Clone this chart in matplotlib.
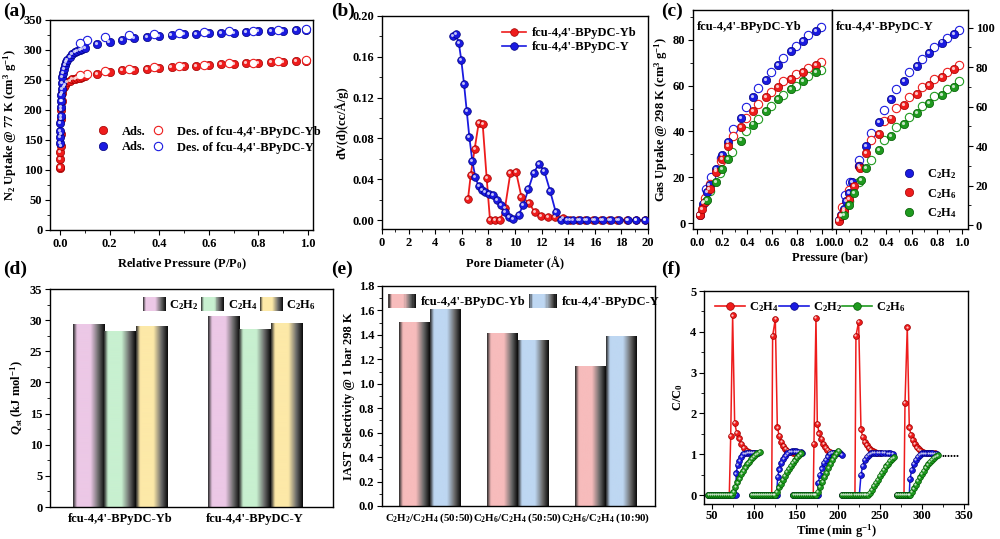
import matplotlib
matplotlib.use("Agg")
import matplotlib.pyplot as plt
import numpy as np
from matplotlib.transforms import offset_copy
from matplotlib.colors import LinearSegmentedColormap
from matplotlib.legend_handler import HandlerBase
from matplotlib.patches import Rectangle, Patch
from matplotlib.lines import Line2D
from matplotlib.ticker import AutoMinorLocator

plt.rcParams['font.family'] = ['Liberation Serif', 'DejaVu Serif']
plt.rcParams['font.weight'] = 'bold'
plt.rcParams['axes.labelweight'] = 'bold'
plt.rcParams['font.size'] = 9
plt.rcParams['mathtext.fontset'] = 'custom'
plt.rcParams['mathtext.rm'] = 'Liberation Serif:bold'
plt.rcParams['mathtext.it'] = 'Liberation Serif:italic:bold'
plt.rcParams['mathtext.bf'] = 'Liberation Serif:bold'
plt.rcParams['axes.linewidth'] = 1.0
plt.rcParams['xtick.direction'] = 'out'
plt.rcParams['ytick.direction'] = 'out'
plt.rcParams['xtick.major.size'] = 3.5
plt.rcParams['ytick.major.size'] = 3.5
plt.rcParams['xtick.minor.size'] = 2
plt.rcParams['ytick.minor.size'] = 2
plt.rcParams['xtick.major.pad'] = 2
plt.rcParams['ytick.major.pad'] = 2

RED, RED_E = '#ee1c1c', '#a00000'
BLUE, BLUE_E = '#1a1ae0', '#000080'
GREEN, GREEN_E = '#1f9a1f', '#005a00'

# ---------------- (a) N2 isotherms ----------------
yb_ads_p = [0.0005, 0.001, 0.0015, 0.002, 0.003, 0.004, 0.005, 0.006, 0.008, 0.010, 0.015, 0.02, 0.03,
            0.04, 0.05, 0.06, 0.07, 0.08, 0.09, 0.10, 0.15, 0.20, 0.25, 0.30, 0.35, 0.40, 0.45, 0.50,
            0.55, 0.60, 0.65, 0.70, 0.75, 0.80, 0.85, 0.90, 0.95, 0.99]
yb_ads_v = [103, 105, 118, 130, 140, 160, 185, 200, 215, 228, 238, 242, 246, 249, 251, 252, 253, 254,
            255, 256, 260, 263, 266, 267, 269, 270, 272, 273, 274, 275, 276, 277, 278, 279, 280, 280, 281, 282]
yb_des_p = [0.99, 0.88, 0.78, 0.68, 0.58, 0.48, 0.38, 0.28, 0.18, 0.11, 0.08]
yb_des_v = [283, 281, 279, 278, 275, 273, 271, 268, 265, 260, 258]
y_ads_p = [0.0005, 0.001, 0.0015, 0.002, 0.003, 0.004, 0.005, 0.006, 0.007, 0.008, 0.010, 0.012, 0.015,
           0.02, 0.025, 0.03, 0.04, 0.05, 0.06, 0.07, 0.08, 0.09, 0.10, 0.15, 0.20, 0.25, 0.30, 0.35,
           0.40, 0.45, 0.50, 0.55, 0.60, 0.65, 0.70, 0.75, 0.80, 0.85, 0.90, 0.95, 0.99]
y_ads_v = [145, 155, 165, 178, 190, 205, 215, 225, 235, 245, 255, 262, 268, 275, 280, 284, 289, 293,
           296, 298, 300, 302, 304, 310, 314, 317, 320, 322, 323, 325, 326, 327, 328, 329, 329, 330,
           331, 332, 332, 333, 334]
y_des_p = [0.99, 0.88, 0.78, 0.68, 0.58, 0.48, 0.38, 0.28, 0.18, 0.11, 0.08]
y_des_v = [335, 333, 332, 331, 330, 329, 327, 325, 321, 316, 312]

# ---------------- (b) pore size distribution ----------------
psd_yb_d = [6.47, 6.67, 6.97, 7.27, 7.57, 7.87, 8.12, 8.47, 8.87, 9.25, 9.65, 10.08, 10.48, 11.03, 11.48,
            11.98, 12.5, 13.0, 13.58, 14.1, 14.7, 15.3, 15.9, 16.5, 17.1, 17.7, 18.4, 19.1, 19.8]
psd_yb_v = [0.021, 0.044, 0.070, 0.095, 0.094, 0.041, 0.0, 0.0, 0.0, 0.012, 0.046, 0.047, 0.023, 0.017,
            0.008, 0.004, 0.003, 0.003, 0.002, 0.0, 0.0, 0.0, 0.0, 0.0, 0.0, 0.0, 0.0, 0.0, 0.0]
psd_y_d = [5.36, 5.56, 5.77, 5.96, 6.17, 6.37, 6.57, 6.79, 7.02, 7.27, 7.52, 7.77, 8.02, 8.37, 8.67, 8.97,
           9.27, 9.57, 9.87, 10.28, 10.63, 11.0, 11.4, 11.8, 12.2, 12.65, 13.06, 13.46, 13.9, 14.35,
           14.85, 15.4, 16.0, 16.6, 17.2, 17.8, 18.5, 19.1, 19.8]
psd_y_v = [0.180, 0.182, 0.174, 0.157, 0.133, 0.107, 0.081, 0.058, 0.042, 0.033, 0.029, 0.027, 0.026,
           0.025, 0.020, 0.015, 0.008, 0.003, 0.001, 0.005, 0.015, 0.030, 0.046, 0.055, 0.048, 0.028,
           0.008, 0.0, 0.0, 0.0, 0.0, 0.0, 0.0, 0.0, 0.0, 0.0, 0.0, 0.0, 0.0]

# ---------------- (c) gas isotherms 298 K ----------------
c2h2_yb_ads_p = [0.02, 0.05, 0.08, 0.10, 0.15, 0.20, 0.25, 0.35, 0.45, 0.55, 0.65, 0.75, 0.85, 0.95]
c2h2_yb_ads = [3.5, 8.5, 13.5, 16.5, 23.5, 29.5, 35.5, 46, 55, 62.5, 69, 75, 79.5, 84]
c2h2_yb_des_p = [0.99, 0.89, 0.79, 0.69, 0.59, 0.49, 0.39, 0.29, 0.19, 0.11, 0.07]
c2h2_yb_des = [85.5, 82, 77.5, 72, 66, 59, 50.5, 41, 28.5, 20, 15]
c2h6_yb_ads_p = [0.02, 0.04, 0.06, 0.10, 0.15, 0.20, 0.25, 0.35, 0.45, 0.55, 0.65, 0.75, 0.85, 0.95]
c2h6_yb_ads = [3.5, 6, 9, 15, 22.5, 28, 33.5, 42, 49, 55, 59.5, 63, 66, 69]
c2h6_yb_des_p = [0.99, 0.89, 0.79, 0.69, 0.59, 0.49, 0.39, 0.29, 0.19, 0.10, 0.06]
c2h6_yb_des = [70.5, 67.5, 65, 62, 57, 52, 46, 38, 27, 17, 11]
c2h4_yb_ads_p = [0.08, 0.15, 0.20, 0.25, 0.35, 0.45, 0.55, 0.65, 0.75, 0.85, 0.95]
c2h4_yb_ads = [10, 18, 23.5, 28, 36, 43, 49, 54, 58.5, 62, 66]
c2h4_yb_des_p = [0.99, 0.89, 0.79, 0.69, 0.59, 0.49, 0.39, 0.28, 0.18, 0.10]
c2h4_yb_des = [67, 64, 60, 56, 51, 45.5, 40, 31, 22, 14]

c2h2_y_ads_p = [0.02, 0.04, 0.06, 0.08, 0.10, 0.13, 0.18, 0.24, 0.34, 0.44, 0.54, 0.64, 0.74, 0.84, 0.94]
c2h2_y_ads = [2.5, 5, 8, 12, 16, 22, 30, 40, 52, 64, 73, 80.5, 87, 92.5, 97]
c2h2_y_des_p = [0.98, 0.88, 0.78, 0.68, 0.58, 0.48, 0.38, 0.28, 0.18, 0.11, 0.07]
c2h2_y_des = [99, 95, 90, 84, 77.5, 69, 58.5, 46.5, 33, 22, 15]
c2h6_y_ads_p = [0.02, 0.04, 0.06, 0.10, 0.14, 0.19, 0.24, 0.34, 0.44, 0.54, 0.64, 0.74, 0.84, 0.94]
c2h6_y_ads = [2, 4.5, 7, 13, 20, 29, 36.5, 46, 54, 61, 66.5, 71, 75, 79]
c2h6_y_des_p = [0.98, 0.88, 0.78, 0.68, 0.58, 0.48, 0.38, 0.28, 0.18, 0.10, 0.05]
c2h6_y_des = [81, 77.5, 74, 70, 65, 59.5, 52.5, 43, 30, 18, 9]
c2h4_y_ads_p = [0.06, 0.10, 0.14, 0.20, 0.24, 0.34, 0.44, 0.54, 0.64, 0.74, 0.84, 0.94]
c2h4_y_ads = [5, 10, 16, 23, 29, 38, 45, 51, 57, 62, 66, 70]
c2h4_y_des_p = [0.98, 0.88, 0.78, 0.68, 0.58, 0.48, 0.38, 0.28, 0.18, 0.10]
c2h4_y_des = [73, 69, 65.5, 60.5, 55, 49.5, 43, 33, 22, 12]

# ---------------- (d) Qst ----------------
mofs = ["fcu-4,4'-BPyDC-Yb", "fcu-4,4'-BPyDC-Y"]
qst_gases = ['C$_2$H$_2$', 'C$_2$H$_4$', 'C$_2$H$_6$']
qst_vals = {'C$_2$H$_2$': [29.3, 30.6], 'C$_2$H$_4$': [28.2, 28.5], 'C$_2$H$_6$': [28.9, 29.4]}

# ---------------- (e) IAST ----------------
iast_cats = ['C$_2$H$_2$/C$_2$H$_4$ (50:50)', 'C$_2$H$_6$/C$_2$H$_4$ (50:50)', 'C$_2$H$_6$/C$_2$H$_4$ (10:90)']
iast_yb = [1.50, 1.41, 1.14]
iast_y = [1.61, 1.35, 1.39]

# ---------------- (f) breakthrough cycles ----------------
bt_c2h4 = [
    ([45.6, 48, 50.4, 52.8, 55.2, 57.6, 60, 62.4, 64.8, 67.2, 69.6, 70.6, 72.3, 74.6, 77, 79.4, 82.5, 84.9,
      88.1, 91.3, 94.4, 97.5, 100.5],
     [0, 0, 0, 0, 0, 0, 0, 0, 0, 0, 0, 0, 1.45, 4.40, 1.77, 1.53, 1.39, 1.25, 1.16, 1.09, 1.05, 1.04, 1.03]),
    ([97.2, 99.6, 102, 104.4, 106.8, 109.2, 111.6, 114, 116.4, 118.8, 121.1, 122.2, 125.4, 127.8, 130.1,
      132.5, 134.9, 137.3, 139.7, 142.9, 146, 149],
     [0, 0, 0, 0, 0, 0, 0, 0, 0, 0, 0, 3.90, 4.31, 1.66, 1.45, 1.31, 1.20, 1.13, 1.08, 1.05, 1.04, 1.03]),
    ([146.8, 149.2, 151.6, 154, 156.4, 158.8, 161.2, 163.6, 166, 168.4, 170.6, 171.4, 173.8, 175.4, 177.7,
      180.1, 182.5, 184.9, 187.3, 190.5, 193.5, 196.5],
     [0, 0, 0, 0, 0, 0, 0, 0, 0, 0, 0, 1.25, 4.35, 1.74, 1.51, 1.37, 1.26, 1.17, 1.10, 1.05, 1.03, 1.02]),
    ([205, 207.4, 209.8, 212.2, 214.6, 217, 219.4, 220.2, 221.4, 224.6, 227.4, 229.4, 231.8, 234.2, 236.5,
      238.9, 241.3, 243.7, 246.5, 249.5],
     [0, 0, 0, 0, 0, 0, 0, 0, 3.90, 4.25, 1.61, 1.43, 1.31, 1.22, 1.15, 1.10, 1.07, 1.05, 1.04, 1.03]),
    ([269.8, 272.2, 274.6, 277, 278.6, 279.8, 282.5, 284.9, 286.9, 288.9, 291.3, 293.7, 296.1, 298.5, 301.6,
      305.6, 309, 312, 315],
     [0, 0, 0, 0, 0, 2.26, 4.11, 1.66, 1.47, 1.35, 1.25, 1.17, 1.12, 1.08, 1.05, 1.04, 1.03, 1.03, 1.02]),
]
bt_c2h2 = [
    ([45.6, 48, 50.4, 52.8, 55.2, 57.6, 60, 62.4, 64.8, 67.2, 69.6, 72, 74.4, 76.8, 78.6, 78.8, 80.6, 82.5,
      84.9, 87.3, 90.1, 92.5, 95, 97.5, 100, 102.5, 105.1],
     [0, 0, 0, 0, 0, 0, 0, 0, 0, 0, 0, 0, 0, 0, 0, 0.53, 0.74, 0.84, 0.94, 1.00, 1.02, 1.03, 1.04, 1.04,
      1.04, 1.04, 1.04]),
    ([97.2, 99.6, 102, 104.4, 106.8, 109.2, 111.6, 114, 116.4, 118.8, 121.1, 123.5, 125.9, 127, 128.2,
      130.1, 132.5, 134.9, 137.3, 139.7, 142.9, 145.5, 148, 150.5, 153, 155.5, 157],
     [0, 0, 0, 0, 0, 0, 0, 0, 0, 0, 0, 0, 0, 0, 0.45, 0.63, 0.78, 0.88, 0.96, 1.02, 1.06, 1.07, 1.07, 1.07,
      1.06, 1.05, 1.04]),
    ([146.8, 149.2, 151.6, 154, 156.4, 158.8, 161.2, 163.6, 166, 168.4, 170.6, 173, 175.4, 176.4, 176.6,
      178.6, 180.9, 183.3, 185.7, 188.1, 190.5, 192.9, 195.3, 197.7, 200.1, 202.5, 204.6],
     [0, 0, 0, 0, 0, 0, 0, 0, 0, 0, 0, 0, 0, 0, 0.30, 0.50, 0.65, 0.78, 0.87, 0.95, 1.00, 1.03, 1.04, 1.04,
      1.03, 1.02, 0.98]),
    ([205, 207.4, 209.8, 212.2, 214.6, 217, 219.4, 221.8, 224.2, 225.4, 227.4, 229.4, 231.8, 234.2, 236.5,
      238.9, 241.3, 244, 247, 250, 253, 256, 259, 262, 265.8],
     [0, 0, 0, 0, 0, 0, 0, 0, 0, 0, 0.49, 0.72, 0.86, 0.94, 0.99, 1.02, 1.03, 1.03, 1.03, 1.03, 1.03, 1.03,
      1.02, 1.02, 1.00]),
    ([269.8, 272.2, 274.6, 277, 279.4, 281.8, 284.2, 284.9, 285.7, 288, 290, 292.8, 295.2, 297.6, 300,
      302.5, 305, 307.5, 310, 312.5, 315, 318],
     [0, 0, 0, 0, 0, 0, 0, 0, 0.40, 0.62, 0.76, 0.87, 0.94, 0.99, 1.02, 1.02, 1.02, 1.02, 1.02, 1.02, 1.01,
      1.01]),
]
bt_c2h6 = [
    ([45.6, 48, 50.4, 52.8, 55.2, 57.6, 60, 62.4, 64.8, 67.2, 69.6, 72, 73.4, 75.4, 77.8, 80.2, 82.5, 84.9,
      87.3, 89.7, 92.1, 94.4, 96.8, 99.2, 101.6, 104, 107.1],
     [0, 0, 0, 0, 0, 0, 0, 0, 0, 0, 0, 0, 0, 0.08, 0.20, 0.31, 0.41, 0.52, 0.60, 0.68, 0.76, 0.82, 0.88,
      0.94, 0.98, 1.02, 1.06]),
    ([97.2, 99.6, 102, 104.4, 106.8, 109.2, 111.6, 114, 116.4, 118.8, 121.1, 123.5, 125, 127, 129.3, 131.7,
      134.1, 136.5, 138.9, 141.3, 143.7, 146, 148.4, 150.8, 153.2, 156],
     [0, 0, 0, 0, 0, 0, 0, 0, 0, 0, 0, 0, 0, 0.08, 0.19, 0.28, 0.38, 0.47, 0.56, 0.64, 0.72, 0.79, 0.85,
      0.92, 0.97, 1.02]),
    ([146.8, 149.2, 151.6, 154, 156.4, 158.8, 161.2, 163.6, 166, 168.4, 170.6, 172.4, 174, 176.5, 178.9,
      181.3, 183.7, 186.1, 188.5, 190.9, 193.3, 195.7, 198.1, 200.5],
     [0, 0, 0, 0, 0, 0, 0, 0, 0, 0, 0, 0, 0, 0.08, 0.20, 0.32, 0.44, 0.55, 0.66, 0.76, 0.86, 0.95, 1.02,
      1.08]),
    ([205, 207.4, 209.8, 212.2, 214.6, 217, 219.4, 221.8, 224.2, 226.6, 229, 231.4, 233.6, 236, 238.1,
      240.5, 242.9, 245.2, 247.6, 250, 252.4, 254.8, 257.1, 259.5, 261.9, 264.3, 266.7],
     [0, 0, 0, 0, 0, 0, 0, 0, 0, 0, 0, 0, 0, 0, 0.06, 0.13, 0.22, 0.30, 0.38, 0.46, 0.54, 0.62, 0.70, 0.76,
      0.83, 0.88, 0.92]),
    ([269.8, 272.2, 274.6, 277, 279.4, 281.8, 284.2, 285.7, 288, 290.4, 292.8, 295.2, 297.6, 300, 302.4,
      304.8, 307.2, 309.6, 312, 314.4, 316.8, 319],
     [0, 0, 0, 0, 0, 0, 0, 0, 0.08, 0.16, 0.25, 0.34, 0.43, 0.52, 0.60, 0.68, 0.75, 0.81, 0.87, 0.91, 0.95,
      0.97]),
]

fig = plt.figure(figsize=(10, 5.39), dpi=100)
H = 539.0


def add_ax(l, t, r, b):
    return fig.add_axes([l / 1000, (H - b) / H, (r - l) / 1000, (b - t) / H])


def balls(ax, x, y, fc, ec, ms, zorder=3):
    ax.plot(x, y, 'o', ms=ms, mfc=fc, mec=ec, mew=0.5, ls='none', zorder=zorder)
    tr = offset_copy(ax.transData, fig=fig, x=-ms * 0.13, y=ms * 0.13, units='points')
    ax.plot(x, y, 'o', ms=ms * 0.38, mfc='white', mec='none', alpha=0.75, ls='none',
            transform=tr, zorder=zorder + 0.1)


def rings(ax, x, y, ec, ms, zorder=3):
    ax.plot(x, y, 'o', ms=ms, mfc='white', mec=ec, mew=0.8, ls='none', zorder=zorder)


def ball_handle(fc, ec, ms, line=False):
    return Line2D([], [], color=fc if line else 'none', lw=1.2, marker='o', ms=ms, mfc=fc, mec=ec, mew=0.5)


def minor(ax, x=True, y=True):
    if x:
        ax.xaxis.set_minor_locator(AutoMinorLocator(2))
    if y:
        ax.yaxis.set_minor_locator(AutoMinorLocator(2))


# ======== (a) ========
ax = add_ax(50, 20, 313, 230)
balls(ax, yb_ads_p, yb_ads_v, RED, RED_E, 6)
rings(ax, yb_des_p, yb_des_v, RED, 6)
balls(ax, y_ads_p, y_ads_v, BLUE, BLUE_E, 6)
rings(ax, y_des_p, y_des_v, BLUE, 6)
ax.set_xlim(-0.04, 1.02)
ax.set_ylim(0, 350)
ax.set_xticks([0, 0.2, 0.4, 0.6, 0.8, 1.0])
ax.set_yticks(range(0, 351, 50))
minor(ax)
ax.set_xlabel('Relative Pressure (P/P$_0$)', labelpad=5)
ax.set_ylabel('N$_2$ Uptake @ 77 K (cm$^3$ g$^{-1}$)', labelpad=3)
hs = [ball_handle(RED, RED_E, 6), ball_handle(BLUE, BLUE_E, 6),
      Line2D([], [], color='none', marker='o', ms=6, mfc='white', mec=RED, mew=0.8),
      Line2D([], [], color='none', marker='o', ms=6, mfc='white', mec=BLUE, mew=0.8)]
ax.legend(hs, ['Ads.', 'Ads.', "Des. of fcu-4,4'-BPyDC-Yb", "Des. of fcu-4,4'-BPyDC-Y"], ncol=2,
          loc='upper left', bbox_to_anchor=(0.13, 0.55), frameon=False, handlelength=1.2,
          handletextpad=0.9, columnspacing=0.4, labelspacing=0.3)

# ======== (b) ========
ax = add_ax(382, 16, 648, 229)
ax.plot(psd_yb_d, psd_yb_v, '-', color=RED, lw=1.3, zorder=2)
balls(ax, psd_yb_d, psd_yb_v, RED, RED_E, 5.5)
ax.plot(psd_y_d, psd_y_v, '-', color=BLUE, lw=1.3, zorder=2)
balls(ax, psd_y_d, psd_y_v, BLUE, BLUE_E, 5.5)
ax.set_xlim(0, 20)
ax.set_ylim(-0.0088, 0.20)
ax.set_xticks(range(0, 21, 2))
ax.set_yticks([0, 0.04, 0.08, 0.12, 0.16, 0.20])
ax.set_yticklabels(['0.00', '0.04', '0.08', '0.12', '0.16', '0.20'])
minor(ax)
ax.set_xlabel('Pore Diameter (Å)', labelpad=6)
ax.set_ylabel('dV(d)(cc/Å/g)', labelpad=3)
ax.legend([ball_handle(RED, RED_E, 5.5, True), ball_handle(BLUE, BLUE_E, 5.5, True)],
          ["fcu-4,4'-BPyDC-Yb", "fcu-4,4'-BPyDC-Y"], loc='upper right', bbox_to_anchor=(1.0, 1.0),
          frameon=False, handlelength=1.9, handletextpad=0.5, labelspacing=0.15)

# ======== (c) ========
axl = add_ax(693, 10, 832, 229)
axr = add_ax(832, 10, 968, 229)
for a, sets in ((axl, [(c2h2_yb_ads_p, c2h2_yb_ads, c2h2_yb_des_p, c2h2_yb_des, BLUE, BLUE_E),
                       (c2h6_yb_ads_p, c2h6_yb_ads, c2h6_yb_des_p, c2h6_yb_des, RED, RED_E),
                       (c2h4_yb_ads_p, c2h4_yb_ads, c2h4_yb_des_p, c2h4_yb_des, GREEN, GREEN_E)]),
                (axr, [(c2h2_y_ads_p, c2h2_y_ads, c2h2_y_des_p, c2h2_y_des, BLUE, BLUE_E),
                       (c2h6_y_ads_p, c2h6_y_ads, c2h6_y_des_p, c2h6_y_des, RED, RED_E),
                       (c2h4_y_ads_p, c2h4_y_ads, c2h4_y_des_p, c2h4_y_des, GREEN, GREEN_E)])):
    for ap, av, dp, dv, c, e in sets:
        balls(a, ap, av, c, e, 6)
        rings(a, dp, dv, c, 6, zorder=2.5)
    a.set_xticks([0, 0.2, 0.4, 0.6, 0.8, 1.0])
    a.set_xticklabels(['0.0', '0.2', '0.4', '0.6', '0.8', '1.0'])
    minor(a)
axl.set_xlim(-0.032, 1.08)
axl.set_ylim(-2.6, 93)
axl.set_yticks(range(0, 81, 20))
axr.set_xlim(-0.032, 1.048)
axr.set_ylim(-2, 109)
axr.set_yticks(range(0, 101, 20))
axr.yaxis.tick_right()
axl.text(0.03, 0.95, "fcu-4,4'-BPyDC-Yb", transform=axl.transAxes, ha='left', va='top')
axr.text(0.03, 0.95, "fcu-4,4'-BPyDC-Y", transform=axr.transAxes, ha='left', va='top')
axl.set_ylabel('Gas Uptake @ 298 K (cm$^3$ g$^{-1}$)', labelpad=2)
fig.text(0.830, (H - 263) / H, 'Pressure (bar)', ha='center', va='bottom', fontweight='bold')
axr.legend([ball_handle(BLUE, BLUE_E, 6), ball_handle(RED, RED_E, 6), ball_handle(GREEN, GREEN_E, 6)],
           ['C$_2$H$_2$', 'C$_2$H$_6$', 'C$_2$H$_4$'], loc='lower right', bbox_to_anchor=(1.0, -0.01),
           frameon=False, handlelength=1.2, handletextpad=0.8, labelspacing=0.45)


# ======== gradient bars ========
def shade_cmap(c):
    return LinearSegmentedColormap.from_list('s', [(0, '#2a2a2a'), (0.12, c), (0.3, c), (0.55, c),
                                                   (0.8, '#6a6a6a'), (1.0, '#0a0a0a')])


grad = np.linspace(0, 1, 64).reshape(1, -1)


def grad_bars(ax, xs, hs, w, cmap):
    for x, h in zip(xs, hs):
        ax.imshow(grad, extent=(x - w / 2, x + w / 2, 0, h), aspect='auto', cmap=cmap,
                  interpolation='bicubic', zorder=2)


class GradHandler(HandlerBase):
    def __init__(self, cmap):
        super().__init__()
        self.cmap = cmap

    def create_artists(self, legend, orig_handle, xdescent, ydescent, width, height, fontsize, trans):
        n = 24
        arts = []
        for i in range(n):
            arts.append(Rectangle((-xdescent + i * width / n, -ydescent - 1), width / n * 1.1, height + 2,
                                  facecolor=self.cmap((i + 0.5) / n), edgecolor='none', transform=trans))
        return arts


# ======== (d) ========
ax = add_ax(50, 289, 333, 507)
qst_cols = {'C$_2$H$_2$': '#ecc8e6', 'C$_2$H$_4$': '#c8f0d0', 'C$_2$H$_6$': '#fde9a8'}
w = 0.233
xg = np.arange(len(mofs))
hd, hm = [], {}
for i, g in enumerate(qst_gases):
    cm = shade_cmap(qst_cols[g])
    grad_bars(ax, xg + (i - 1) * w, qst_vals[g], w, cm)
    p = Patch(label=g)
    hd.append(p)
    hm[p] = GradHandler(cm)
ax.set_xlim(-0.52, 1.58)
ax.set_ylim(0, 35)
ax.set_xticks(xg)
ax.set_xticklabels(mofs)
ax.tick_params(axis='x', length=0, pad=4)
ax.yaxis.set_minor_locator(AutoMinorLocator(2))
ax.set_ylabel('$Q_{\\mathrm{st}}$ (kJ mol$^{-1}$)', labelpad=3)
ax.legend(handles=hd, handler_map=hm, ncol=3, loc='upper right', bbox_to_anchor=(0.98, 1.01),
          frameon=False, handlelength=1.8, handleheight=1.0, handletextpad=0.3, columnspacing=0.2)

# ======== (e) ========
ax = add_ax(382, 286, 655, 506)
xe = np.arange(len(iast_cats))
w = 0.35
he, hme = [], {}
for vals, col, lab, off in ((iast_yb, '#f7bcbc', mofs[0], -0.5), (iast_y, '#bed7f2', mofs[1], 0.5)):
    cm = shade_cmap(col)
    grad_bars(ax, xe + off * w, vals, w, cm)
    p = Patch(label=lab)
    he.append(p)
    hme[p] = GradHandler(cm)
ax.set_xlim(-0.54, 2.56)
ax.set_ylim(0, 1.8)
ax.set_xticks(xe)
ax.set_xticklabels(iast_cats, fontsize=7.8)
ax.tick_params(axis='x', length=0, pad=4)
ax.set_yticks(np.arange(0, 1.81, 0.2))
ax.set_yticklabels(['0.0', '0.2', '0.4', '0.6', '0.8', '1.0', '1.2', '1.4', '1.6', '1.8'])
ax.yaxis.set_minor_locator(AutoMinorLocator(2))
ax.set_ylabel('IAST Selectivity @ 1 bar 298 K', labelpad=3)
ax.legend(handles=he, handler_map=hme, ncol=2, loc='upper center', bbox_to_anchor=(0.52, 1.01),
          frameon=False, handlelength=2.2, handleheight=1.0, handletextpad=0.4, columnspacing=0.3)

# ======== (f) ========
ax = add_ax(704, 291, 968, 504)
for cyc in bt_c2h4:
    ax.plot(cyc[0], cyc[1], '-', color=RED, lw=1.1, zorder=2)
    balls(ax, cyc[0], cyc[1], RED, RED_E, 4.2)
for cyc in bt_c2h2:
    ax.plot(cyc[0], cyc[1], '-', color=BLUE, lw=1.1, zorder=3)
    balls(ax, cyc[0], cyc[1], BLUE, BLUE_E, 4.2, zorder=3.5)
for cyc in bt_c2h6:
    ax.plot(cyc[0], cyc[1], '-', color=GREEN, lw=1.1, zorder=4)
    balls(ax, cyc[0], cyc[1], GREEN, GREEN_E, 4.2, zorder=4.5)
ax.text(323, 1.0, '......', ha='left', va='center', fontsize=9)
ax.set_xlim(40.5, 354.8)
ax.set_ylim(-0.22, 5)
ax.set_xticks(range(50, 351, 50))
ax.set_yticks(range(0, 6))
minor(ax)
ax.tick_params(axis='x', which='major', pad=1)
ax.set_xlabel('Time (min g$^{-1}$)', labelpad=0, fontsize=9)
ax.set_ylabel('C/C$_0$', labelpad=4)
ax.legend([ball_handle(RED, RED_E, 5.5, True), ball_handle(BLUE, BLUE_E, 5.5, True),
           ball_handle(GREEN, GREEN_E, 5.5, True)], ['C$_2$H$_4$', 'C$_2$H$_2$', 'C$_2$H$_6$'],
          ncol=3, loc='upper left', bbox_to_anchor=(0.0, 1.01), frameon=False, handlelength=2.4,
          handletextpad=0.3, columnspacing=0.0)

# panel letters
for lab, x, y in (('(a)', 3, 3), ('(b)', 331, 3), ('(c)', 661, 3),
                  ('(d)', 3, 261), ('(e)', 331, 261), ('(f)', 661, 261)):
    fig.text(x / 1000, (H - y) / H, lab, ha='left', va='top', fontsize=14, fontweight='bold')

fig.savefig('out.png', dpi=100, facecolor='white')
